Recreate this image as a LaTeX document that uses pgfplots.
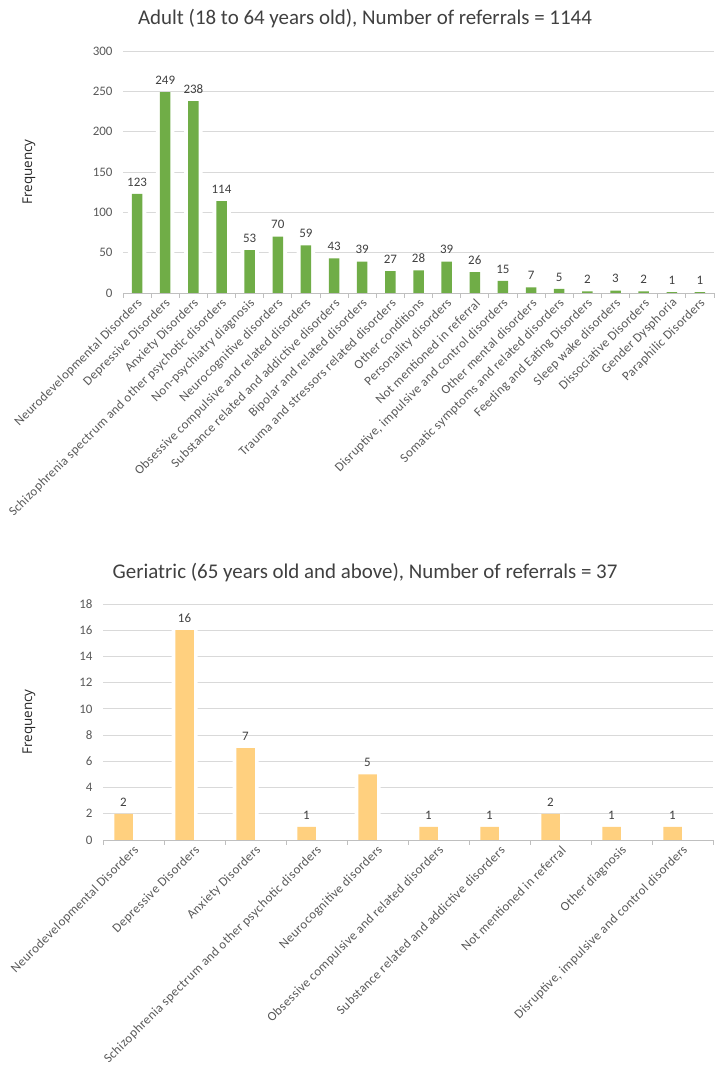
\documentclass[border=0pt]{standalone}
\usepackage{pgfplots}
\pgfplotsset{compat=1.18}
\usepackage{fontspec}
\setmainfont{Carlito}
\newfontfamily\freqfont{Open Sans}
\newfontfamily\catfont[LetterSpace=3]{Carlito}
\definecolor{bargreen}{HTML}{70AD47}
\definecolor{barorange}{HTML}{FFD07F}
\definecolor{gridgray}{HTML}{D9D9D9}
\definecolor{axisgray}{HTML}{BFBFBF}
\definecolor{textgray}{HTML}{595959}
\definecolor{titlegray}{HTML}{404040}

\pgfplotsset{
  excelbar/.style={
    set layers=standard,
    scale only axis,
    /pgf/number format/assume math mode=true,
    axis x line*=bottom,
    axis y line*=left,
    y axis line style={draw=none},
    x axis line style={draw=axisgray, line width=0.9bp, /pgfplots/on layer=axis foreground},
    ymajorgrids,
    grid style={draw=gridgray, line width=0.9bp},
    major tick length=0pt,
    minor tick length=5bp,
    tick align=outside,
    minor tick style={draw=axisgray, line width=0.9bp, /pgfplots/on layer=axis foreground},
    yticklabel style={font=\fontsize{13}{13}\selectfont, text=textgray, xshift=-7bp},
    xticklabel style={font=\catfont\fontsize{13}{13}\selectfont, text=textgray, rotate=45, anchor=east, yshift=-8bp},
    ymin=0,
    xmin=-0.5,
    nodes near coords style={font=\fontsize{13}{13}\selectfont, text=titlegray, yshift=4bp},
    xtick=data,
  },
}

\begin{document}
\begin{tikzpicture}
\path (0bp,0bp) rectangle (725bp,1080bp);

% ---------- Adult chart ----------
\node[font=\fontsize{21}{21}\selectfont, text=titlegray] at (365bp,1061bp) {Adult (18 to 64 years old), Number of referrals = 1144};
\node[font=\freqfont\fontsize{13.5}{13.5}\selectfont, text=black!85, rotate=90] at (29bp,908bp) {Frequency};

\begin{axis}[
  excelbar,
  at={(123bp,787bp)}, anchor=south west,
  width=591bp, height=242bp,
  xmax=20.5, ymax=300,
  ytick={0,50,...,300},
  minor xtick={-0.5,0.5,...,20.5},
  xticklabels={Neurodevelopmental Disorders,Depressive Disorders,Anxiety Disorders,Schizophrenia spectrum and other psychotic disorders,Non-psychiatry diagnosis,Neurocognitive disorders,Obsessive compulsive and related disorders,Substance related and addictive disorders,Bipolar and related disorders,Trauma and stressors related disorders,Other conditions,Personality disorders,Not mentioned in referral,{Disruptive, impulsive and control disorders},Other mental disorders,Somatic symptoms and related disorders,Feeding and Eating Disorders,Sleep wake disorders,Dissociative Disorders,Gender Dysphoria,Paraphilic Disorders},
]
% white halo behind the bars (gaps in the gridlines, as in the reference)
\addplot[ybar, bar width=18.5bp, fill=white, draw=none, forget plot] coordinates {
(0,123) (1,249) (2,238) (3,114) (4,53) (5,70) (6,59) (7,43) (8,39) (9,27) (10,28)
(11,39) (12,26) (13,15) (14,7) (15,5) (16,2) (17,3) (18,2) (19,1) (20,1)};
\addplot[ybar, bar width=10.5bp, fill=bargreen, draw=none, nodes near coords] coordinates {
(0,123) (1,249) (2,238) (3,114) (4,53) (5,70) (6,59) (7,43) (8,39) (9,27) (10,28)
(11,39) (12,26) (13,15) (14,7) (15,5) (16,2) (17,3) (18,2) (19,1) (20,1)};
\end{axis}

% ---------- Geriatric chart ----------
\node[font=\fontsize{21}{21}\selectfont, text=titlegray] at (365bp,507bp) {Geriatric (65 years old and above), Number of referrals = 37};
\node[font=\freqfont\fontsize{13.5}{13.5}\selectfont, text=black!85, rotate=90] at (29bp,358bp) {Frequency};

\begin{axis}[
  excelbar,
  at={(103bp,240bp)}, anchor=south west,
  width=610bp, height=236bp,
  xmax=9.5, ymax=18,
  ytick={0,2,...,18},
  minor xtick={-0.5,0.5,...,9.5},
  xticklabels={Neurodevelopmental Disorders,Depressive Disorders,Anxiety Disorders,Schizophrenia spectrum and other psychotic disorders,Neurocognitive disorders,Obsessive compulsive and related disorders,Substance related and addictive disorders,Not mentioned in referral,Other diagnosis,{Disruptive, impulsive and control disorders}},
]
\addplot[ybar, bar width=26bp, bar shift=-10bp, fill=white, draw=none, forget plot] coordinates {
(0,2) (1,16) (2,7) (3,1) (4,5) (5,1) (6,1) (7,2) (8,1) (9,1)};
\addplot[ybar, bar width=18.5bp, bar shift=-10bp, fill=barorange, draw=none, nodes near coords,
  every node near coord/.append style={xshift=-10bp}] coordinates {
(0,2) (1,16) (2,7) (3,1) (4,5) (5,1) (6,1) (7,2) (8,1) (9,1)};
\end{axis}
\end{tikzpicture}
\end{document}
